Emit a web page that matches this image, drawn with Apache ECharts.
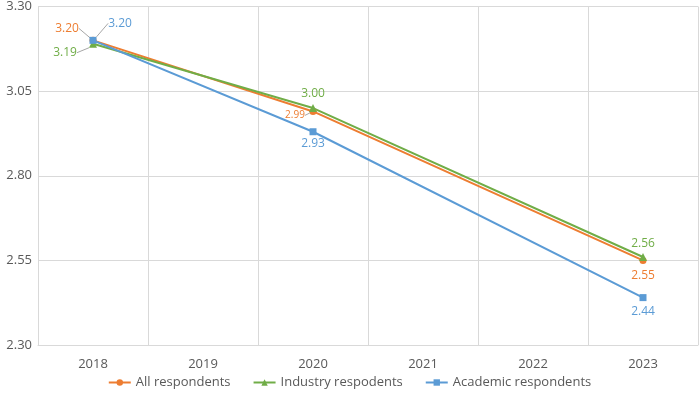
<!DOCTYPE html>
<html>
<head>
<meta charset="utf-8">
<script src="https://cdn.jsdelivr.net/npm/echarts@6/dist/echarts.min.js"></script>
<style>
  html, body { margin: 0; padding: 0; background: #fff; }
  #chart { width: 699px; height: 396px; }
</style>
</head>
<body>
<div id="chart"></div>
<script>
// 数据
var years = ['2018', '2019', '2020', '2021', '2022', '2023'];
var allResp = [3.20, null, 2.99, null, null, 2.55];
var industryResp = [3.19, null, 3.00, null, null, 2.56];
var academicResp = [3.20, null, 2.93, null, null, 2.44];
var seriesNames = ['All respondents', 'Industry respodents', 'Academic respondents'];

var colors = ['#ED7D31', '#70AD47', '#5B9BD5'];
// label offsets (dx, dy) from the point, per series / per category
var labelShift = [
    [[-26, -12], null, [-18, 4], null, null, [0, 15]],
    [[-28, 9], null, [0, -14], null, null, [0, -13]],
    [[27, -17], null, [0, 12], null, null, [0, 14]]
];
var guideAt = [[0, 2], [0], [0]];

function buildData(values, s) {
    return values.map(function (v, i) {
        if (v === null) return null;
        var item = { value: v };
        if (guideAt[s].indexOf(i) >= 0) {
            item.labelLine = { show: true, lineStyle: { color: '#a6a6a6', width: 1 } };
        }
        if (s === 0 && i === 2) {
            item.label = { fontSize: 10 };
        }
        return item;
    });
}

var chart = echarts.init(document.getElementById('chart'));
var symbols = ['circle', 'triangle', 'rect'];
var symbolSizes = [7, 8, 7];
var series = [allResp, industryResp, academicResp].map(function (vals, s) {
    return {
        name: seriesNames[s],
        type: 'line',
        data: buildData(vals, s),
        connectNulls: true,
        symbol: symbols[s],
        symbolSize: symbolSizes[s],
        color: colors[s],
        lineStyle: { width: 2, color: colors[s] },
        itemStyle: { color: colors[s] },
        label: {
            show: true,
            position: 'inside',
            color: colors[s],
            fontSize: 12,
            fontFamily: 'Open Sans',
            formatter: function (p) { return p.value.toFixed(2); }
        },
        labelLine: { show: false },
        labelLayout: function (p) {
            var d = labelShift[s][p.dataIndex];
            if (!d) return {};
            return { dx: d[0], dy: d[1] };
        }
    };
});

var option = {
    animation: false,
    grid: { left: 38, right: 1, top: 5, bottom: 51, containLabel: false },
    legend: {
        bottom: 2,
        itemWidth: 22,
        itemHeight: 8,
        itemGap: 22,
        textStyle: { color: '#595959', fontSize: 13, fontFamily: 'Open Sans' },
        data: seriesNames
    },
    xAxis: {
        type: 'category',
        data: years,
        boundaryGap: true,
        axisLine: { lineStyle: { color: '#d9d9d9' } },
        axisTick: { show: false },
        splitLine: { show: true, lineStyle: { color: '#d9d9d9' } },
        axisLabel: { color: '#595959', fontSize: 13, fontFamily: 'Open Sans', margin: 13 }
    },
    yAxis: {
        type: 'value',
        min: 2.30,
        max: 3.30,
        interval: 0.25,
        axisLine: { show: false },
        axisTick: { show: false },
        splitLine: { lineStyle: { color: '#d9d9d9' } },
        axisLabel: {
            color: '#595959', fontSize: 13, fontFamily: 'Open Sans', margin: 6,
            formatter: function (v) { return v.toFixed(2); }
        }
    },
    series: series
};

chart.setOption(option);
window.onresize = function () { chart.resize(); };
</script>
</body>
</html>
